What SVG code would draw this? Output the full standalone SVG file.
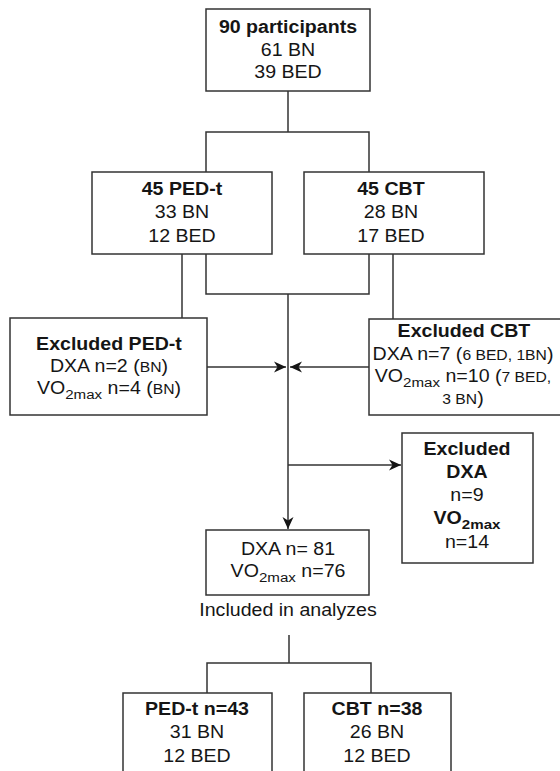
<svg xmlns="http://www.w3.org/2000/svg" width="560" height="771" viewBox="0 0 560 771">
  <style>
    .box { fill: #ffffff; stroke: #333333; stroke-width: 1.5; }
    .wire { fill: none; stroke: #333333; stroke-width: 1.5; }
    text { font-family: "Liberation Sans", Arial, sans-serif; font-size: 17.5px; fill: #151515; text-anchor: middle;
           transform-box: fill-box; transform-origin: center; transform: scaleX(1.12); }
    .b { font-weight: bold; }
    .sm { font-size: 14px; }
    .sub { font-size: 13.5px; }
  </style>
  <defs>
    <marker id="arrow" markerWidth="13" markerHeight="12" refX="12" refY="6" orient="auto" markerUnits="userSpaceOnUse">
      <path d="M0,0.5 L12,6 L0,11.5 L3.5,6 z" fill="#151515"/>
    </marker>
  </defs>

  <rect width="560" height="771" fill="#ffffff"/>

  <!-- connectors -->
  <g id="connectors">
    <path class="wire" d="M288,91 V132 M206,172 V132 H369 V172"/>
    <path class="wire" d="M182,254 V318"/>
    <path class="wire" d="M206,254 V294 H369 V254"/>
    <path class="wire" d="M393,254 V319"/>
    <path class="wire" d="M288,294 V529" marker-end="url(#arrow)"/>
    <path class="wire" d="M207,367 H286" marker-end="url(#arrow)"/>
    <path class="wire" d="M369,367 H290" marker-end="url(#arrow)"/>
    <path class="wire" d="M288,465 H401" marker-end="url(#arrow)"/>
    <path class="wire" d="M289,635 V663 M207,693 V663 H371 V693"/>
  </g>

  <g id="participants">
    <rect class="box" x="206" y="9" width="164" height="82"/>
    <text class="b" x="288" y="33">90 participants</text>
    <text x="288" y="56">61 BN</text>
    <text x="288" y="78">39 BED</text>
  </g>

  <g id="ped-t">
    <rect class="box" x="92" y="172" width="180" height="82"/>
    <text class="b" x="182" y="195">45 PED-t</text>
    <text x="182" y="218">33 BN</text>
    <text x="182" y="242">12 BED</text>
  </g>

  <g id="cbt">
    <rect class="box" x="304" y="172" width="180" height="82"/>
    <text class="b" x="391" y="195">45 CBT</text>
    <text x="391" y="218">28 BN</text>
    <text x="391" y="242">17 BED</text>
  </g>

  <g id="excluded-ped-t">
    <rect class="box" x="10" y="318" width="197" height="97"/>
    <text class="b" x="109" y="350">Excluded PED-t</text>
    <text x="109" y="372">DXA n=2 (<tspan class="sm">BN</tspan>)</text>
    <text x="109" y="394">VO<tspan class="sub" dy="5">2max</tspan><tspan dy="-5"> n=4 (</tspan><tspan class="sm">BN</tspan>)</text>
  </g>

  <g id="excluded-cbt">
    <rect class="box" x="369" y="319" width="195" height="96"/>
    <text class="b" x="464" y="337">Excluded CBT</text>
    <text x="463" y="360">DXA n=7 (<tspan class="sm">6 BED, 1BN</tspan>)</text>
    <text x="463" y="382">VO<tspan class="sub" dy="5">2max</tspan><tspan dy="-5"> n=10 (</tspan><tspan class="sm">7 BED,</tspan></text>
    <text x="463" y="404"><tspan class="sm">3 BN</tspan>)</text>
  </g>

  <g id="excluded-dxa">
    <rect class="box" x="402" y="433" width="131" height="130"/>
    <text class="b" x="467" y="455">Excluded</text>
    <text class="b" x="467" y="478">DXA</text>
    <text x="467" y="501">n=9</text>
    <text class="b" x="467" y="524">VO<tspan class="sub" dy="5">2max</tspan></text>
    <text x="467" y="548">n=14</text>
  </g>

  <g id="included">
    <rect class="box" x="206" y="530" width="163" height="65"/>
    <text x="288" y="555">DXA n= 81</text>
    <text x="288" y="577">VO<tspan class="sub" dy="5">2max</tspan><tspan dy="-5"> n=76</tspan></text>
  </g>

  <g id="included-label">
    <text x="288" y="616">Included in analyzes</text>
  </g>

  <g id="ped-t-final">
    <rect class="box" x="123" y="693" width="149" height="90"/>
    <text class="b" x="197" y="715">PED-t n=43</text>
    <text x="197" y="738">31 BN</text>
    <text x="197" y="762">12 BED</text>
  </g>

  <g id="cbt-final">
    <rect class="box" x="304" y="693" width="147" height="90"/>
    <text class="b" x="377" y="715">CBT n=38</text>
    <text x="377" y="738">26 BN</text>
    <text x="377" y="762">12 BED</text>
  </g>
</svg>
